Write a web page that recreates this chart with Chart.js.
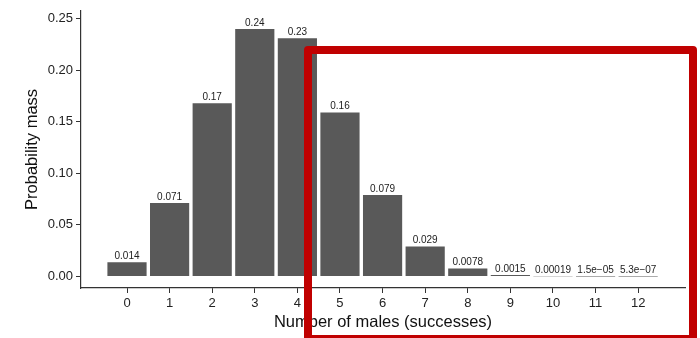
<!DOCTYPE html>
<html>
<head>
<meta charset="utf-8">
<script src="https://cdn.jsdelivr.net/npm/chart.js@4"></script>
<style>
  html, body { margin: 0; padding: 0; background: #fff; overflow: hidden; }
  #wrap { position: relative; width: 700px; height: 338px; }
  canvas { display: block; }
  #highlight {
    position: absolute; left: 304px; top: 46px; width: 377px; height: 281px;
    border: 8px solid #c00000; border-radius: 4px; pointer-events: none;
  }
</style>
</head>
<body>
<div id="wrap">
  <canvas id="chart" width="700" height="338"></canvas>
  <div id="highlight"></div>
</div>
<script>
const successes = [0, 1, 2, 3, 4, 5, 6, 7, 8, 9, 10, 11, 12];
const probMass = [0.0138, 0.0712, 0.168, 0.240, 0.231, 0.159, 0.079, 0.029, 0.0078, 0.0015, 0.00019, 0.000015, 0.00000053];
const massLabels = ['0.014', '0.071', '0.17', '0.24', '0.23', '0.16', '0.079', '0.029', '0.0078', '0.0015', '0.00019', '1.5e\u221205', '5.3e\u221207'];
const yTicks = [0, 0.05, 0.10, 0.15, 0.20, 0.25];

const font = '"Liberation Sans", Arial, Helvetica, sans-serif';

const barLabels = {
    id: 'barLabels',
    afterDatasetsDraw(chart) {
        const ctx = chart.ctx;
        const meta = chart.getDatasetMeta(0);
        ctx.save();
        ctx.font = '10px ' + font;
        ctx.fillStyle = '#222';
        ctx.textAlign = 'center';
        ctx.textBaseline = 'bottom';
        meta.data.forEach((bar, i) => {
            ctx.fillText(massLabels[i], bar.x, bar.y - 1);
        });
        ctx.restore();
    }
};

new Chart(document.getElementById('chart'), {
    type: 'bar',
    data: {
        datasets: [{
            data: successes.map((s, i) => ({ x: s, y: probMass[i] })),
            backgroundColor: '#595959',
            borderWidth: 0,
            categoryPercentage: 1,
            barPercentage: 0.92
        }]
    },
    options: {
        responsive: false,
        animation: false,
        layout: { padding: { top: 7, right: 15, left: 0, bottom: 0 } },
        plugins: {
            legend: { display: false },
            tooltip: { enabled: false }
        },
        scales: {
            x: {
                type: 'linear',
                offset: false,
                min: -1.08,
                max: 13.1,
                afterBuildTicks: (scale) => { scale.ticks = successes.map(v => ({ value: v })); },
                afterFit: (scale) => { scale.height = 50; },
                grid: { offset: false, drawOnChartArea: false, color: '#333', tickLength: 5 },
                border: { display: true, color: '#333', width: 1.2 },
                ticks: {
                    color: '#222', font: { family: font, size: 13 }, padding: 3,
                    callback: (v) => String(v)
                },
                title: {
                    display: true, text: 'Number of males (successes)',
                    color: '#111', font: { family: font, size: 16.5 }, padding: { top: 0, bottom: 6 }
                }
            },
            y: {
                min: -0.0112,
                max: 0.2577,
                afterBuildTicks: (scale) => { scale.ticks = yTicks.map(v => ({ value: v })); },
                afterFit: (scale) => { scale.width = 81; },
                grid: { drawOnChartArea: false, color: '#333', tickLength: 5 },
                border: { display: true, color: '#333', width: 1.2 },
                ticks: {
                    color: '#222', font: { family: font, size: 13 }, padding: 3,
                    callback: (v) => v.toFixed(2)
                },
                title: {
                    display: true, text: 'Probability mass',
                    color: '#111', font: { family: font, size: 16.5 }, padding: { top: 23, bottom: 0 }
                }
            }
        }
    },
    plugins: [barLabels]
});
</script>
</body>
</html>
